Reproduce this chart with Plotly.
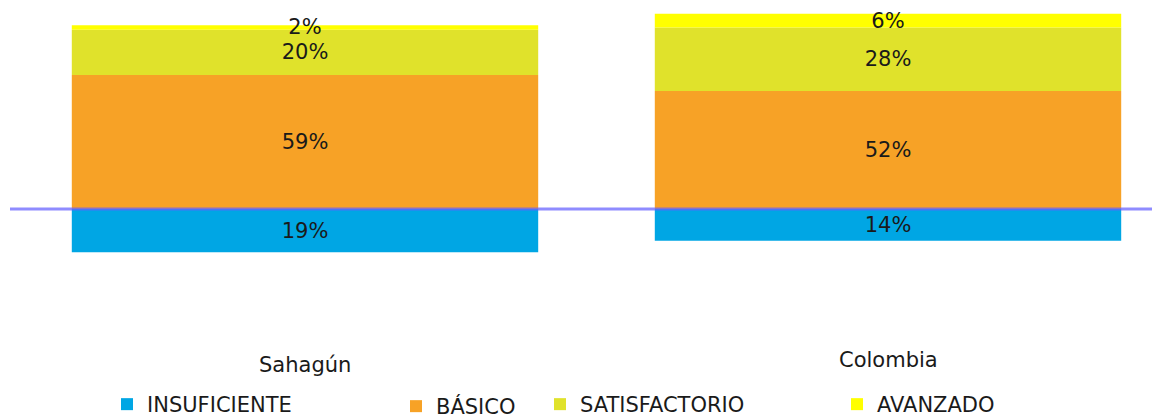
import plotly.graph_objects as go

categories = ["Sahagún", "Colombia"]
series_names = ["INSUFICIENTE", "BÁSICO", "SATISFACTORIO", "AVANZADO"]
insuficiente = [19, 14]
basico = [59, 52]
satisfactorio = [20, 28]
avanzado = [2, 6]

colors = ["#00A6E4", "#F7A226", "#E0E22B", "#FFFF00"]
FONT = "DejaVu Sans"
FS = 21

values = [[-v for v in insuficiente], basico, satisfactorio, avanzado]
labels = [insuficiente, basico, satisfactorio, avanzado]

fig = go.Figure()
legend_ids = ["legend", "legend2", "legend3", "legend4"]
for name, vals, labs, col, lg in zip(series_names, values, labels, colors, legend_ids):
    fig.add_trace(go.Bar(
        x=[0, 1], y=vals, name=name,
        marker=dict(color=col, line=dict(width=0)),
        text=[f"{v}%" for v in labs],
        textposition="inside", insidetextanchor="middle",
        constraintext="none", textangle=0,
        textfont=dict(family=FONT, size=FS, color="#1a1a1a"),
        width=0.8, legend=lg, hoverinfo="skip",
    ))

# The page body adds an 8px offset; work in reference-pixel coordinates.
OFF = 8
W, H = 1160 - OFF, 416 - OFF
L = 10 - OFF
def px_x(p):
    return (p - OFF - L) / (W - L)
def px_y(p):
    return 1 - (p - OFF) / H

fig.add_shape(type="line", xref="paper", yref="y", x0=0, x1=1, y0=0, y1=0,
              line=dict(color="rgba(100,95,255,0.72)", width=3), layer="above")

cat_y = [365, 360]
for i, (c, yy) in enumerate(zip(categories, cat_y)):
    fig.add_annotation(x=i, xref="x", y=px_y(yy), yref="paper", text=c,
                       showarrow=False, xanchor="center", yanchor="middle",
                       font=dict(family=FONT, size=FS, color="#1a1a1a"))

# legend positions (reference pixel of legend box left edge, top)
leg_pos = [(107, 384), (396, 386), (540, 384), (837, 384)]
legend_layouts = {}
for lg, (lx, ly) in zip(legend_ids, leg_pos):
    legend_layouts[lg] = dict(
        x=px_x(lx), y=px_y(ly), xanchor="left", yanchor="top",
        font=dict(family=FONT, size=FS, color="#1a1a1a"),
        bgcolor="rgba(0,0,0,0)", borderwidth=0,
        itemclick=False, itemdoubleclick=False,
    )

px_per = 2.27
zero_px = 209
fig.update_layout(
    width=W, height=H,
    margin=dict(l=L, r=0, t=0, b=0, autoexpand=False),
    paper_bgcolor="white", plot_bgcolor="white",
    barmode="relative", bargap=0.2,
    showlegend=True,
    xaxis=dict(visible=False, range=[(10 - 305) / 583, (1160 - 305) / 583]),
    yaxis=dict(visible=False, range=[-(416 - zero_px) / px_per, (zero_px - OFF) / px_per]),
    **legend_layouts,
)

fig.write_html("out.html")
